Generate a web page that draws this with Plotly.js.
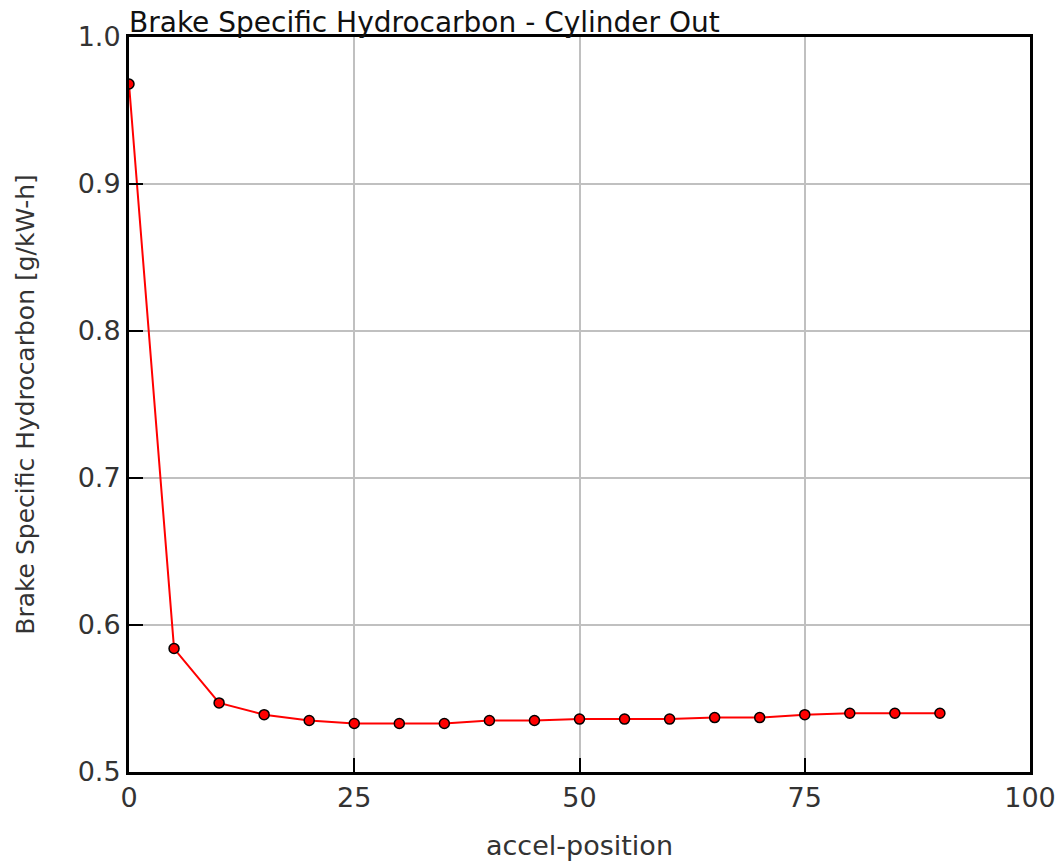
<!DOCTYPE html>
<html><head><meta charset="utf-8">
<script src="https://cdn.plot.ly/plotly-3.0.1.min.js"></script>
<style>html,body{margin:0;padding:0;background:#fff}#chart{width:1063px;height:864px}</style>
</head><body><div id="chart"></div>
<script>
const accelPosition = [0,5,10,15,20,25,30,35,40,45,50,55,60,65,70,75,80,85,90];
const bsHC = [0.968,0.584,0.547,0.539,0.535,0.533,0.533,0.533,0.535,0.535,0.536,0.536,0.536,0.537,0.537,0.539,0.540,0.540,0.540];
const xTicks = [0,25,50,75,100];
const yTicks = [0.5,0.6,0.7,0.8,0.9,1.0];
const yTickText = ['0.5','0.6','0.7','0.8','0.9','1.0'];

const trace = {
  x: accelPosition, y: bsHC, type: 'scatter', mode: 'lines+markers',
  line: {color: '#ff0000', width: 2},
  marker: {color: '#ff0000', size: 10, line: {color: '#000', width: 1.5}},
  hoverinfo: 'x+y'
};
const fontFam = '"DejaVu Sans", Verdana, sans-serif';
const layout = {
  width: 1063, height: 864,
  margin: {l: 129, r: 33, t: 37, b: 92},
  paper_bgcolor: '#fff', plot_bgcolor: '#fff',
  showlegend: false,
  font: {family: fontFam, color: '#222', size: 24},
  title: {text: 'Brake Specific Hydrocarbon - Cylinder Out', x: 129/1063, xanchor: 'left', xref: 'container',
          y: 1, yref: 'paper', yanchor: 'bottom', pad: {b: 5}, font: {size: 28, color: '#111', family: fontFam}},
  xaxis: {range: [0, 100], tickvals: xTicks, ticktext: xTicks.map(String),
          showgrid: true, gridcolor: '#c0c0c0', gridwidth: 2, zeroline: false,
          showline: true, mirror: true, linecolor: '#000', linewidth: 3,
          ticks: 'inside', ticklen: 14, tickcolor: '#000', tickwidth: 2,
          tickfont: {size: 27, color: '#333'},
          title: {text: 'accel-position', font: {size: 27, color: '#333'}, standoff: 24}},
  yaxis: {range: [0.5, 1.0], tickvals: yTicks, ticktext: yTickText,
          showgrid: true, gridcolor: '#c0c0c0', gridwidth: 2, zeroline: false,
          showline: true, mirror: true, linecolor: '#000', linewidth: 3,
          ticks: 'inside', ticklen: 14, tickcolor: '#000', tickwidth: 2,
          tickfont: {size: 27, color: '#333'},
          title: {text: 'Brake Specific Hydrocarbon [g/kW-h]', font: {size: 25, color: '#333'}, standoff: 36}}
};
Plotly.newPlot('chart', [trace], layout, {displayModeBar: false});
</script></body></html>
